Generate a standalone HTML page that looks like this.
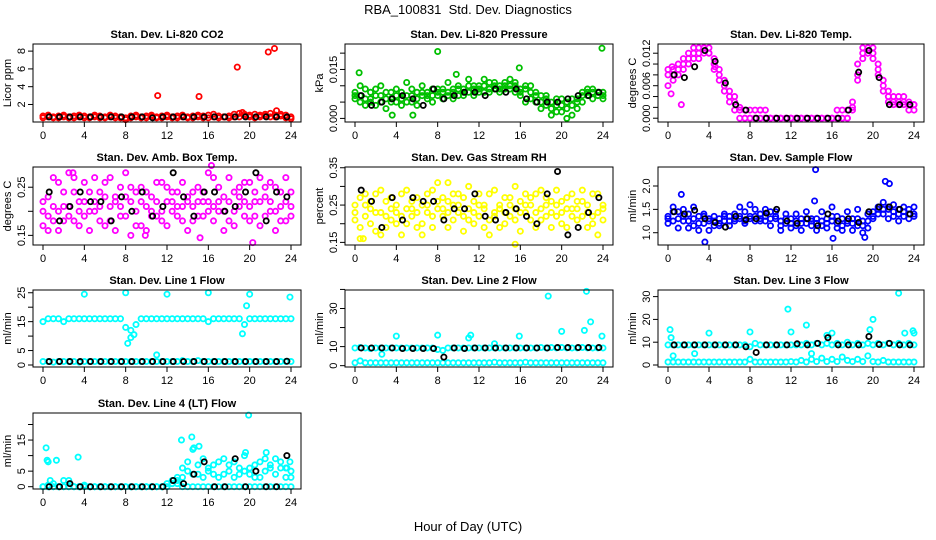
<!DOCTYPE html>
<html><head><meta charset="utf-8"><style>
html,body{margin:0;padding:0;background:#fff;}
svg{display:block;font-family:"Liberation Sans",sans-serif;}
</style></head><body>
<svg id="chart" width="936" height="540" viewBox="0 0 936 540" xmlns="http://www.w3.org/2000/svg">
<text x="468" y="14" text-anchor="middle" font-size="13">RBA_100831 &#160;Std. Dev. Diagnostics</text>
<text x="468" y="531" text-anchor="middle" font-size="13">Hour of Day (UTC)</text>
</svg>
<script>
const HALF=[0,0.5,1,1.5,2,2.5,3,3.5,4,4.5,5,5.5,6,6.5,7,7.5,8,8.5,9,9.5,10,10.5,11,11.5,12,12.5,13,13.5,14,14.5,15,15.5,16,16.5,17,17.5,18,18.5,19,19.5,20,20.5,21,21.5,22,22.5,23,23.5,24];
const BH=[0.6,1.6,2.6,3.6,4.6,5.6,6.6,7.6,8.6,9.6,10.6,11.6,12.6,13.6,14.6,15.6,16.6,17.6,18.6,19.6,20.6,21.6,22.6,23.6];
const xTicks=[0,4,8,12,16,20,24];

const co2_A=[0.7,0.6,0.6,0.7,0.6,0.6,0.7,0.6,0.7,0.6,0.6,0.7,0.6,0.6,0.7,0.6,0.5,0.7,0.6,0.6,0.7,0.6,0.6,0.7,0.6,0.6,0.7,0.6,0.6,0.7,0.6,0.7,0.8,0.6,0.7,0.6,0.7,0.9,1.0,0.7,0.8,0.9,0.8,0.7,1.0,0.8,0.7,0.8,0.6];
const co2_B=[0.5,0.8,0.5,0.5,0.8,0.5,0.5,0.8,0.5,0.5,0.8,0.5,0.5,0.8,0.5,0.5,0.3,0.5,0.8,0.5,0.5,0.8,0.5,0.5,0.8,0.5,0.5,0.8,0.5,0.5,0.8,0.5,0.5,0.9,0.5,0.6,0.5,0.6,0.6,0.9,0.6,0.5,0.6,0.9,0.6,0.6,0.9,0.5,0.4];
const co2_K=[0.6,0.6,0.6,0.6,0.6,0.6,0.6,0.6,0.6,0.6,0.5,0.6,0.6,0.6,0.6,0.6,0.6,0.6,0.6,0.6,0.6,0.6,0.6,0.6];
const co2_OH=[11.1,15.1,18.8,21.8,22.4,22.6,19.3];
const co2_OV=[3.0,2.9,6.2,7.9,8.3,1.3,1.1];

const pr_A=[0.008,0.007,0.006,0.008,0.009,0.007,0.006,0.008,0.007,0.008,0.007,0.009,0.008,0.007,0.008,0.009,0.008,0.009,0.008,0.009,0.010,0.009,0.010,0.009,0.010,0.010,0.011,0.010,0.010,0.011,0.010,0.011,0.009,0.010,0.008,0.007,0.007,0.006,0.005,0.006,0.004,0.005,0.006,0.006,0.007,0.008,0.008,0.008,0.008];
const pr_B=[0.006,0.010,0.004,0.005,0.004,0.010,0.003,0.005,0.005,0.004,0.011,0.005,0.004,0.010,0.006,0.005,0.007,0.006,0.011,0.006,0.007,0.007,0.012,0.007,0.008,0.012,0.008,0.009,0.008,0.009,0.012,0.008,0.007,0.005,0.010,0.005,0.003,0.004,0.001,0.002,0.002,0.000,0.001,0.003,0.005,0.009,0.006,0.007,0.006];
const pr_C=[0.007,0.005,0.009,0.006,0.007,0.005,0.008,0.006,0.009,0.006,0.005,0.007,0.006,0.008,0.007,0.007,0.009,0.008,0.007,0.008,0.009,0.008,0.008,0.010,0.009,0.008,0.009,0.011,0.009,0.010,0.009,0.010,0.008,0.009,0.006,0.008,0.005,0.007,0.003,0.004,0.006,0.003,0.004,0.005,0.008,0.007,0.009,0.007,0.007];
const pr_K=[0.007,0.004,0.005,0.006,0.007,0.006,0.004,0.009,0.006,0.007,0.008,0.008,0.007,0.009,0.008,0.009,0.006,0.005,0.005,0.005,0.006,0.007,0.007,0.008];
const pr_OH=[0.4,8.0,15.9,23.9,9.8,5.6,3.6];
const pr_OV=[0.014,0.0205,0.0155,0.0215,0.0135,0.001,0.001];

const tp_A=[0.008,0.009,0.008,0.010,0.011,0.012,0.012,0.013,0.013,0.011,0.009,0.007,0.005,0.004,0.0015,0.0015,0.0015,0.0015,0.0015,0,0,0,0,0,0,0,0,0,0,0,0,0,0,0,0.0015,0.0015,0.0015,0.007,0.011,0.013,0.013,0.010,0.007,0.005,0.004,0.003,0.0025,0.003,0.0025];
const tp_B=[0.006,0.007,0.009,0.009,0.010,0.011,0.013,0.012,0.012,0.010,0.008,0.006,0.004,0.003,0.002,0,0,0,0.0015,0.0015,0,0,0,0,0,0,0,0,0,0,0,0,0,0.0015,0,0,0.003,0.010,0.012,0.012,0.011,0.008,0.006,0.004,0.0025,0.0025,0.004,0.0015,0.0025];
const tp_C=[0.009,0.008,0.010,0.011,0.012,0.013,0.011,0.013,0.012,0.009,0.007,0.005,0.003,0.0015,0,0,0,0,0,0,0,0,0,0,0,0,0,0,0,0,0,0,0,0,0,0,0.002,0.008,0.013,0.012,0.012,0.009,0.005,0.003,0.003,0.004,0.003,0.0025,0.0015];
const tp_K=[0.008,0.0075,0.0095,0.0125,0.0105,0.0065,0.0025,0.0015,0,0,0,0,0,0,0,0,0,0.0015,0.0085,0.0125,0.0075,0.0025,0.0025,0.0025];
const tp_OH=[0.3,0.4,1.3,4.6];
const tp_OV=[0.0045,0.0095,0.0025,0.0095];

const ab_A=[0.20,0.23,0.18,0.26,0.21,0.19,0.24,0.17,0.22,0.20,0.27,0.18,0.23,0.21,0.16,0.25,0.19,0.22,0.24,0.17,0.21,0.23,0.19,0.26,0.22,0.20,0.24,0.18,0.23,0.21,0.25,0.19,0.22,0.27,0.20,0.23,0.18,0.24,0.21,0.19,0.26,0.22,0.17,0.23,0.20,0.25,0.18,0.22,0.24];
const ab_B=[0.17,0.19,0.27,0.16,0.24,0.28,0.18,0.22,0.26,0.16,0.20,0.24,0.17,0.27,0.22,0.19,0.28,0.15,0.20,0.25,0.16,0.19,0.26,0.20,0.17,0.24,0.21,0.26,0.16,0.24,0.19,0.22,0.28,0.18,0.25,0.16,0.27,0.20,0.23,0.26,0.18,0.24,0.27,0.19,0.26,0.16,0.21,0.27,0.19];
const ab_C=[0.22,0.16,0.21,0.20,0.18,0.21,0.27,0.20,0.19,0.24,0.22,0.21,0.26,0.18,0.23,0.21,0.23,0.25,0.17,0.22,0.24,0.20,0.22,0.18,0.25,0.22,0.19,0.21,0.22,0.18,0.22,0.24,0.20,0.21,0.22,0.20,0.22,0.17,0.25,0.22,0.21,0.19,0.22,0.25,0.22,0.20,0.24,0.18,0.21];
const ab_K=[0.24,0.18,0.21,0.24,0.22,0.22,0.18,0.23,0.20,0.24,0.19,0.21,0.28,0.23,0.19,0.24,0.24,0.20,0.21,0.24,0.28,0.18,0.24,0.23];
const ab_OH=[20.3,15.2,16.3,2.9,9.9];
const ab_OV=[0.135,0.145,0.295,0.28,0.15];

const rh_A=[0.25,0.27,0.22,0.24,0.28,0.23,0.26,0.21,0.25,0.28,0.24,0.22,0.27,0.25,0.23,0.29,0.24,0.22,0.26,0.25,0.23,0.27,0.24,0.26,0.22,0.25,0.28,0.23,0.25,0.27,0.22,0.24,0.26,0.23,0.25,0.28,0.24,0.22,0.26,0.25,0.23,0.27,0.24,0.26,0.22,0.25,0.28,0.23,0.25];
const rh_B=[0.21,0.19,0.28,0.20,0.18,0.29,0.19,0.27,0.20,0.17,0.29,0.26,0.19,0.20,0.28,0.19,0.31,0.27,0.19,0.21,0.28,0.18,0.30,0.20,0.28,0.19,0.21,0.29,0.19,0.20,0.27,0.30,0.18,0.28,0.21,0.19,0.29,0.27,0.19,0.29,0.20,0.19,0.28,0.21,0.29,0.19,0.20,0.28,0.21];
const rh_C=[0.23,0.16,0.25,0.26,0.23,0.17,0.22,0.24,0.23,0.22,0.20,0.24,0.23,0.17,0.25,0.22,0.26,0.24,0.23,0.28,0.25,0.22,0.21,0.23,0.25,0.24,0.17,0.22,0.24,0.23,0.25,0.21,0.23,0.25,0.27,0.23,0.21,0.25,0.23,0.22,0.26,0.24,0.22,0.24,0.26,0.23,0.22,0.17,0.24];
const rh_K=[0.29,0.26,0.19,0.27,0.21,0.27,0.26,0.26,0.21,0.24,0.24,0.28,0.22,0.21,0.23,0.24,0.22,0.20,0.28,0.34,0.17,0.19,0.23,0.27];
const rh_OH=[15.5,0.8,9.0];
const rh_OV=[0.145,0.16,0.31];

const sf_A=[1.35,1.45,1.30,1.25,1.40,1.30,1.20,1.35,1.25,1.15,1.30,1.25,1.35,1.40,1.30,1.45,1.35,1.50,1.40,1.35,1.45,1.30,1.25,1.20,1.30,1.25,1.20,1.30,1.15,1.20,1.25,1.30,1.35,1.20,1.30,1.25,1.20,1.30,1.15,1.25,1.45,1.55,1.50,1.50,1.45,1.40,1.45,1.40,1.40];
const sf_B=[1.20,1.55,1.10,1.50,1.10,1.55,1.05,1.40,1.05,1.35,1.15,1.40,1.15,1.25,1.55,1.20,1.60,1.25,1.25,1.50,1.15,1.45,1.05,1.40,1.10,1.40,1.05,1.45,1.30,1.05,1.45,1.10,1.55,1.10,1.05,1.45,1.05,1.50,1.00,1.40,1.30,1.40,1.65,1.30,1.60,1.25,1.55,1.30,1.55];
const sf_C=[1.30,1.25,1.45,1.35,1.25,1.15,1.35,1.20,1.30,1.25,1.20,1.35,1.25,1.30,1.35,1.25,1.30,1.35,1.30,1.25,1.30,1.35,1.15,1.30,1.20,1.15,1.30,1.20,1.25,1.30,1.15,1.20,1.25,1.35,1.15,1.20,1.30,1.15,1.25,1.10,1.35,1.50,1.40,1.55,1.35,1.50,1.35,1.50,1.35];
const sf_K=[1.45,1.40,1.48,1.30,1.22,1.12,1.35,1.28,1.30,1.42,1.50,1.25,1.20,1.30,1.15,1.40,1.25,1.30,1.22,1.45,1.55,1.55,1.50,1.40];
const sf_OH=[3.6,14.4,21.2,21.6,1.3,16.1,19.2,14.3];
const sf_OV=[0.8,2.35,2.1,2.05,1.82,0.88,0.9,1.68];

const l1_A=[15,16,16,16,15,16,16,16,16,16,16,16,16,16,16,16,13,12,14,16,16,16,16,16,16,16,16,16,16,16,16,16,15,16,16,16,16,16,16,14,16,16,16,16,16,16,16,16,16];
const l1_B=[1.2,1.2,1.0,1.2,1.2,1.2,1.2,1.0,1.2,1.2,1.2,1.2,1.2,1.2,1.2,1.2,1.2,1.2,1.2,1.2,1.2,1.2,1.2,1.2,1.2,1.2,1.2,1.5,1.2,1.2,1.5,1.2,1.2,1.2,1.2,1.2,1.2,1.2,1.2,1.2,1.2,1.2,1.2,1.2,1.2,1.2,1.2,1.2,1.2];
const l1_K=[1.2,1.2,1.2,1.2,1.2,1.2,1.2,1.2,1.2,1.2,1.2,1.2,1.2,1.2,1.2,1.2,1.2,1.2,1.2,1.2,1.2,1.2,1.2,1.3];
const l1_OH=[4,8,12,16,20,23.9,8.2,8.5,8.8,19.3,19.7,11];
const l1_OV=[24.5,25,24.5,25,24.5,23.5,7.5,9.5,10.5,10.8,20.5,3.5];

const l2_A=[9.3,9.5,9.3,9.0,9.3,9.3,9.3,9.3,9.3,9.3,9.3,9.3,9.3,9.3,9.3,9.3,8.5,8.0,9.3,9.3,9.3,9.3,9.3,9.3,9.3,9.3,9.3,9.3,9.3,9.3,9.3,9.3,9.3,9.3,9.3,9.3,9.5,9.3,9.5,9.3,9.5,9.3,9.3,9.3,9.5,9.3,9.3,9.3,9.3];
const l2_B=[1.5,2.5,1.5,1.5,1.5,1.5,1.5,1.5,1.5,1.5,1.5,1.5,1.5,1.5,1.5,1.5,1.5,1.5,1.5,1.5,1.5,1.5,1.5,1.5,1.5,1.5,1.5,1.8,1.5,1.5,1.5,1.5,1.5,1.8,1.5,1.5,1.5,1.5,1.5,1.5,1.5,1.5,1.5,1.5,1.5,1.5,1.5,1.5,1.5];
const l2_K=[9.3,9.3,9.3,9.3,9.0,9.0,9.0,9.0,4.5,9.3,9.0,9.3,9.3,9.3,9.3,9.3,9.3,9.3,9.3,9.5,9.5,9.5,9.5,9.5];
const l2_OH=[4,8,11,11.2,15.9,18.7,22.4,22.8,20,22.2,23.9,2.6,13.5];
const l2_OV=[15.5,16,14.5,16,15.5,36.5,39,23,18,18.5,15.5,6,11.5];

const l3_A=[8.8,8.8,8.8,8.8,8.8,8.8,8.8,8.8,8.8,8.8,8.8,8.8,8.8,8.8,8.8,8.8,8.0,9.5,8.8,8.8,8.8,8.8,8.8,8.8,8.8,8.8,8.8,9.5,8.8,9.5,8.8,9.5,8.8,9.5,8.8,10,8.8,9.5,8.8,9.5,8.8,9.5,8.8,9.5,8.8,9.5,8.8,9.5,8.8];
const l3_B=[1.3,1.3,1.3,1.3,1.3,1.3,1.3,1.3,1.3,1.3,1.3,1.3,1.3,1.3,1.3,1.3,2.5,1.3,1.3,1.3,1.3,1.3,1.3,1.3,1.5,1.3,2.0,1.3,2.5,1.5,3.0,1.5,2.5,1.5,3.5,2.0,1.5,2.5,1.5,4.0,1.5,1.3,2.0,1.3,1.3,1.3,1.3,1.3,1.3];
const l3_K=[8.8,8.8,8.8,8.8,8.8,8.8,8.8,8.0,5.5,8.8,8.8,8.8,9.3,8.8,9.5,12,8.8,8.8,8.8,12.5,9.0,9.5,8.8,8.8];
const l3_OH=[0.2,0.3,0.5,2.6,4,8,11.7,12,13.5,14,15.5,16,19.7,20,22.5,23.1,24,23.9];
const l3_OV=[15.5,12,4,5,14,14.5,24.5,14.5,17.5,5,13,14,15.5,20,31.5,14,14,15];

const l4_A=[0,0,0,0,0,0,0,0,0,0,0,0,0,0,0,0,0,0,0,0,0,0,0,0,0,1,1,0,0,0,0,0,0,0,0,0,0,0,0,0,0,0,0,0,0,0,0,0,0];
const l4_B=[0,0.5,1,0,2,2,0,0,0.5,0,0,0,0,0,0,0,0,0,0,0,0,0,0,0,0,2,3,6,8,12,4,9,5,7,3,9,5,8,4,10,6,3,8,5,7,9,6,3,5];
const l4_C=[0,0,0,0,0,0,0,0,0,0,0,0,0,0,0,0,0,0,0,0,0,0,0,0,1,1,2,3,5,4,7,3,6,4,8,4,7,3,6,5,4,7,3,9,6,4,8,6,3];
const l4_K=[0,0,1,0,0,0,0,0,0,0,0,0,2,1,4,8,0,0,9,0,5,0,0,10];
const l4_OH=[0.3,0.4,0.5,0.7,1.3,3.4,13.4,14.4,14.6,15.1,19.6,19.9,21.6,23.6,23.9];
const l4_OV=[12.5,8.5,8,2,8.5,9.5,15,16,12.5,13,11,23,11,6,8];

const COLX=[33,345,658], COLR=[301,613,924];
const ROWT=[44,167,290,413], ROWB=[122,245,367,489];

const panels=[
 {name:"co2",title:"Stan. Dev. Li-820 CO2",ylab:"Licor ppm",color:"#ff0000",col:0,row:0,ylim:[0.03,8.8],ticks:[2,4,6,8],labels:["2","4","6","8"],A:co2_A,B:co2_B,K:co2_K,OH:co2_OH,OV:co2_OV},
 {name:"pressure",title:"Stan. Dev. Li-820 Pressure",ylab:"kPa",color:"#00c000",col:1,row:0,ylim:[-0.0011,0.0228],ticks:[0,0.005,0.01,0.015,0.02],labels:["0.000","","","0.015",""],A:pr_A,B:pr_B,C:pr_C,K:pr_K,OH:pr_OH,OV:pr_OV},
 {name:"temp",title:"Stan. Dev. Li-820 Temp.",ylab:"degrees C",color:"#ff00ff",col:2,row:0,ylim:[-0.0007,0.0137],ticks:[0,0.002,0.004,0.006,0.008,0.01,0.012],labels:["0.000","","","0.006","","","0.012"],A:tp_A,B:tp_B,C:tp_C,K:tp_K,OH:tp_OH,OV:tp_OV},
 {name:"amb-box-temp",title:"Stan. Dev. Amb. Box Temp.",ylab:"degrees C",color:"#ff00ff",col:0,row:1,ylim:[0.13,0.292],ticks:[0.15,0.2,0.25],labels:["0.15","","0.25"],A:ab_A,B:ab_B,C:ab_C,K:ab_K,OH:ab_OH,OV:ab_OV},
 {name:"gas-stream-rh",title:"Stan. Dev. Gas Stream RH",ylab:"percent",color:"#ffff00",col:1,row:1,ylim:[0.143,0.352],ticks:[0.15,0.2,0.25,0.3,0.35],labels:["0.15","","0.25","","0.35"],A:rh_A,B:rh_B,C:rh_C,K:rh_K,OH:rh_OH,OV:rh_OV},
 {name:"sample-flow",title:"Stan. Dev. Sample Flow",ylab:"ml/min",color:"#0000ff",col:2,row:1,ylim:[0.737,2.407],ticks:[1,1.5,2],labels:["1.0","1.5","2.0"],A:sf_A,B:sf_B,C:sf_C,K:sf_K,OH:sf_OH,OV:sf_OV},
 {name:"line1-flow",title:"Stan. Dev. Line 1 Flow",ylab:"ml/min",color:"#00ffff",col:0,row:2,ylim:[-0.69,25.95],ticks:[0,5,10,15,20,25],labels:["0","5","","15","","25"],A:l1_A,B:l1_B,K:l1_K,OH:l1_OH,OV:l1_OV},
 {name:"line2-flow",title:"Stan. Dev. Line 2 Flow",ylab:"ml/min",color:"#00ffff",col:1,row:2,ylim:[-0.7,39.7],ticks:[0,10,20,30,40],labels:["0","10","","30",""],A:l2_A,B:l2_B,K:l2_K,OH:l2_OH,OV:l2_OV},
 {name:"line3-flow",title:"Stan. Dev. Line 3 Flow",ylab:"ml/min",color:"#00ffff",col:2,row:2,ylim:[-0.88,32.9],ticks:[0,10,20,30],labels:["0","10","20","30"],A:l3_A,B:l3_B,K:l3_K,OH:l3_OH,OV:l3_OV},
 {name:"line4-flow",title:"Stan. Dev. Line 4 (LT) Flow",ylab:"ml/min",color:"#00ffff",col:0,row:3,ylim:[-0.74,23.7],ticks:[0,5,10,15,20],labels:["0","5","","15",""],A:l4_A,B:l4_B,C:l4_C,K:l4_K,OH:l4_OH,OV:l4_OV}
];

const NS="http://www.w3.org/2000/svg";
const svg=document.getElementById("chart");
function mk(tag,attrs,parent){const e=document.createElementNS(NS,tag);for(const k in attrs)e.setAttribute(k,attrs[k]);(parent||svg).appendChild(e);return e;}

panels.forEach(p=>{
  const L=COLX[p.col],R=COLR[p.col],T=ROWT[p.row],B=ROWB[p.row];
  const xs=h=>L+10+h/24*(R-L-20);
  const ys=v=>B-(v-p.ylim[0])/(p.ylim[1]-p.ylim[0])*(B-T);
  const g=mk("g",{});
  
  
  const t=mk("text",{x:(L+R)/2,y:T-6,"text-anchor":"middle","font-size":"11","font-weight":"bold"},g);
  t.textContent=p.title;
  
  
  const yl=mk("text",{x:0,y:0,"text-anchor":"middle","font-size":"11",transform:`translate(${L-22},${(T+B)/2}) rotate(-90)`},g);
  yl.textContent=p.ylab;
  
  
  const pts=mk("g",{fill:"none","stroke-width":"1.8"},g);
  
  
  const dot=(h,v,c)=>{const ci=mk("circle",{cx:xs(h),cy:ys(v),r:2.6,stroke:c},pts);
    
    };
  [p.A,p.B,p.C].forEach(arr=>{if(arr)arr.forEach((v,i)=>dot(HALF[i],v,p.color));});
  p.OH.forEach((h,i)=>dot(h,p.OV[i],p.color));
  p.K.forEach((v,i)=>dot(BH[i],v,"#000"));
  const box=mk("rect",{x:L,y:T,width:R-L,height:B-T,fill:"none",stroke:"#000","stroke-width":"1"},g);
  
  
  const xa=mk("g",{},g);
  
  
  mk("line",{x1:xs(0),x2:xs(24),y1:B,y2:B,stroke:"#000"},xa);
  xTicks.forEach(h=>{mk("line",{x1:xs(h),x2:xs(h),y1:B,y2:B+5,stroke:"#000"},xa);
    const tl=mk("text",{x:xs(h),y:B+17,"text-anchor":"middle","font-size":"11"},xa);tl.textContent=String(h);});
  const ya=mk("g",{},g);
  
  
  mk("line",{x1:L,x2:L,y1:ys(p.ticks[0]),y2:ys(p.ticks[p.ticks.length-1]),stroke:"#000"},ya);
  p.ticks.forEach((v,i)=>{const y=ys(v);mk("line",{x1:L-5,x2:L,y1:y,y2:y,stroke:"#000"},ya);
    if(p.labels[i]){const tl=mk("text",{x:0,y:0,"text-anchor":"middle","font-size":"11",transform:`translate(${L-8},${y}) rotate(-90)`},ya);tl.textContent=p.labels[i];}});
});
</script>
</body></html>
